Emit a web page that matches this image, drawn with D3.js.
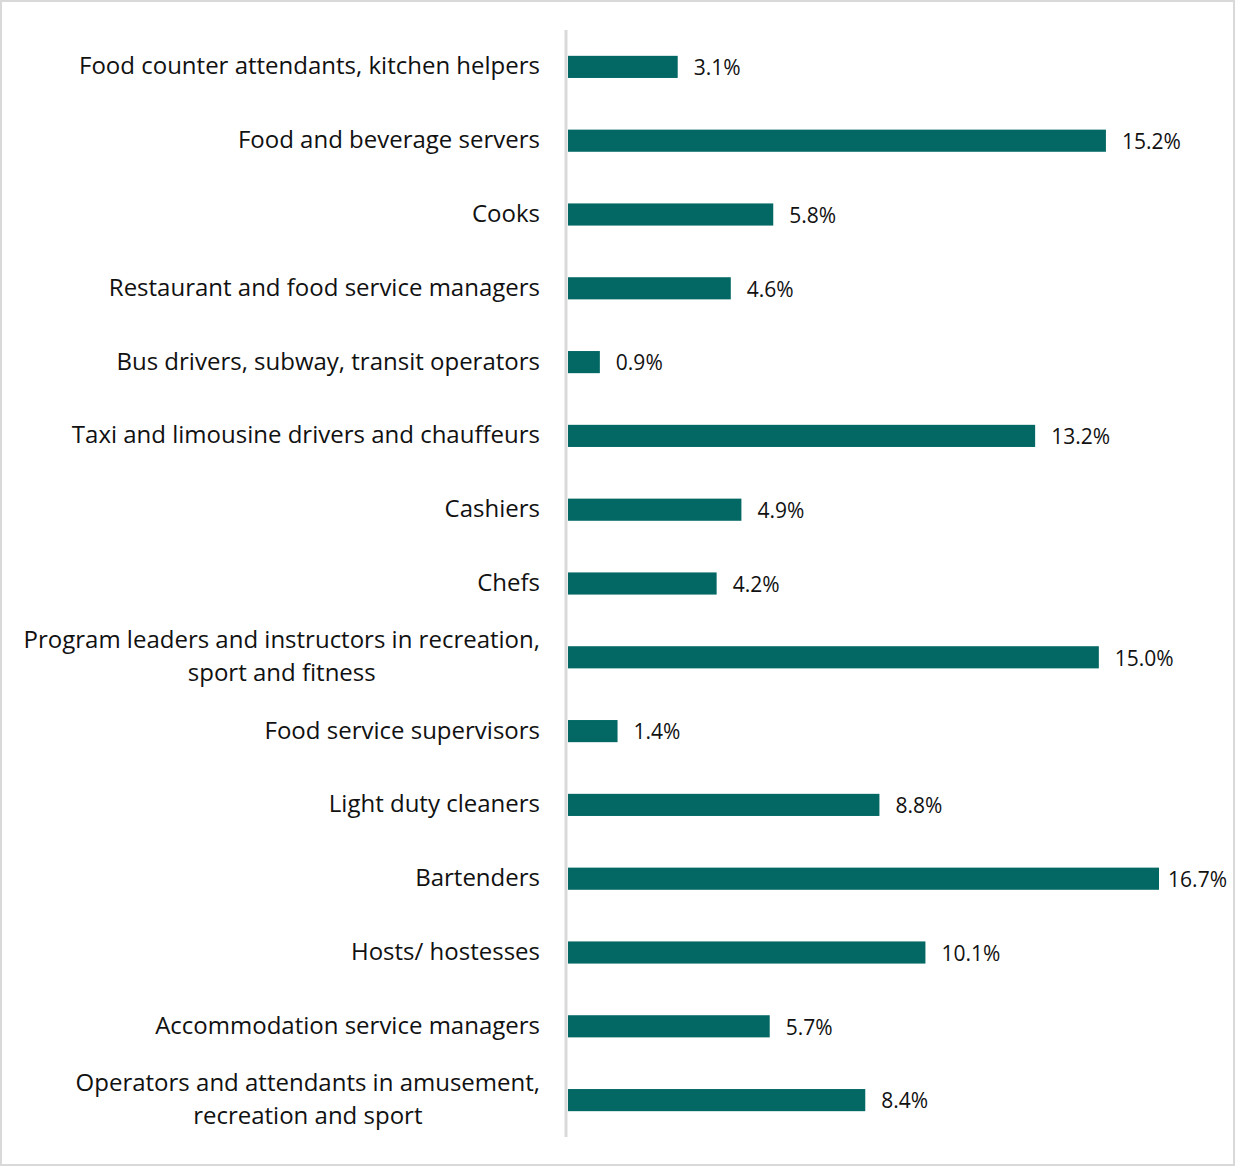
<!DOCTYPE html>
<html><head><meta charset="utf-8">
<script src="https://cdn.jsdelivr.net/npm/d3@7"></script>
<style>
html,body{margin:0;padding:0;background:#fff;}
text{font-family:"Open Sans","Noto Sans",sans-serif;fill:#111;}
</style></head>
<body><svg id="c" width="1236" height="1167"></svg>
<script>
const categories = [
  ["Food counter attendants, kitchen helpers"],
  ["Food and beverage servers"],
  ["Cooks"],
  ["Restaurant and food service managers"],
  ["Bus drivers, subway, transit operators"],
  ["Taxi and limousine drivers and chauffeurs"],
  ["Cashiers"],
  ["Chefs"],
  ["Program leaders and instructors in recreation,", "sport and fitness"],
  ["Food service supervisors"],
  ["Light duty cleaners"],
  ["Bartenders"],
  ["Hosts/ hostesses"],
  ["Accommodation service managers"],
  ["Operators and attendants in amusement,", "recreation and sport"]
];
const values = [3.1, 15.2, 5.8, 4.6, 0.9, 13.2, 4.9, 4.2, 15.0, 1.4, 8.8, 16.7, 10.1, 5.7, 8.4];
const valueLabels = ["3.1%","15.2%","5.8%","4.6%","0.9%","13.2%","4.9%","4.2%","15.0%","1.4%","8.8%","16.7%","10.1%","5.7%","8.4%"];

const svg = d3.select("#c");
svg.append("rect").attr("x",1).attr("y",1).attr("width",1233).attr("height",1164)
  .attr("fill","#fff").attr("stroke","#d9d9d9").attr("stroke-width",2);

const idx = d3.range(categories.length);
const y = d3.scaleBand().domain(idx).range([30,1137]).paddingInner(0.7).paddingOuter(0.35);
const x = d3.scaleLinear().domain([0,16.7]).range([568,1159]);

svg.append("g").selectAll("rect").data(idx).join("rect")
  .attr("x", x(0)).attr("y", i=>y(i)).attr("width", i=>x(values[i])-x(0))
  .attr("height", y.bandwidth()).attr("fill","#036864");

svg.append("line").attr("x1",566).attr("x2",566).attr("y1",30).attr("y2",1137)
  .attr("stroke","#d9d9d9").attr("stroke-width",3);

const vl = svg.append("g").selectAll("text").data(idx).join("text")
  .attr("x", i=>x(values[i])+16).attr("y", i=>y(i)+y.bandwidth()/2+1)
  .attr("dy","0.35em").style("font-size","21px").text(i=>valueLabels[i]);
vl.each(function(i){
  const w = this.getComputedTextLength();
  const x0 = x(values[i])+16;
  if (x0 + w > 1227) d3.select(this).attr("x", Math.max(x(values[i])+9, 1227 - w));
});

const lg = svg.append("g");
idx.forEach(i=>{
  const lines = categories[i];
  const cy = y(i)+y.bandwidth()/2 - 1;
  const lh = 33;
  if(lines.length===1){
    lg.append("text").attr("x",540).attr("y",cy).attr("dy","0.35em")
      .attr("text-anchor","end").style("font-size","24px").text(lines[0]);
  } else {
    const ts = lines.map((l,k)=>lg.append("text").attr("y",cy+(k-(lines.length-1)/2)*lh)
      .attr("dy","0.35em").attr("text-anchor","middle").style("font-size","24px").text(l));
    const w = d3.max(ts, t=>t.node().getComputedTextLength());
    ts.forEach(t=>t.attr("x",540-w/2));
  }
});
</script></body></html>
